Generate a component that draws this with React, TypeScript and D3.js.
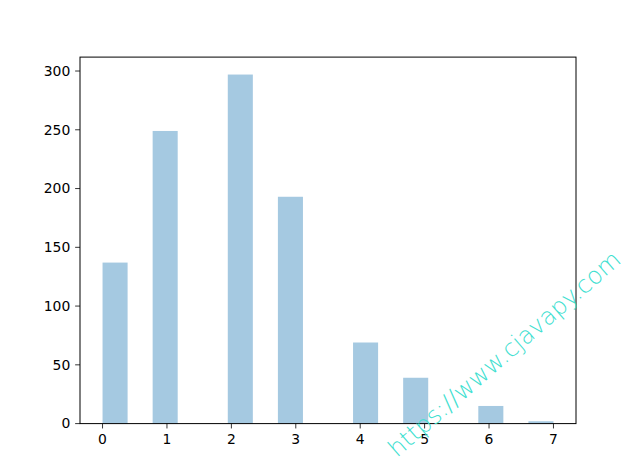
import * as d3 from "d3";
import { useEffect, useRef } from "react";

// histogram data: integer value -> count
const values = [0, 1, 2, 3, 4, 5, 6, 7];
const counts = [137, 249, 297, 193, 69, 39, 15, 2];
const yTicks = [0, 50, 100, 150, 200, 250, 300];
const xTicks = [0, 1, 2, 3, 4, 5, 6, 7];
const nBins = 18;
const watermark = "https://www.cjavapy.com";

export default function App() {
  const svgRef = useRef<SVGSVGElement>(null);
  const width = 640;
  const height = 476;

  useEffect(() => {
    const svg = d3.select(svgRef.current).attr("width", width).attr("height", height);
    svg.selectAll("*").remove();

    const left = 80, right = 576, top = 57.1, bottom = 423.6;
    const lo = d3.min(values)!, hi = d3.max(values)!;
    const pad = (hi - lo) * 0.05;
    const x = d3.scaleLinear().domain([lo - pad, hi + pad]).range([left, right]);
    const y = d3.scaleLinear().domain([0, d3.max(counts)! * 1.05]).range([bottom, top]);
    const bw = (hi - lo) / nBins;

    const bars = values.map((v, i) => {
      const idx = Math.min(nBins - 1, Math.floor((v - lo) / bw));
      return { x0: lo + idx * bw, x1: lo + (idx + 1) * bw, c: counts[i] };
    });

    svg.append("g")
      .selectAll("rect")
      .data(bars)
      .enter()
      .append("rect")
      .attr("x", d => x(d.x0))
      .attr("width", d => x(d.x1) - x(d.x0))
      .attr("y", d => y(d.c))
      .attr("height", d => bottom - y(d.c))
      .attr("fill", "#1f77b4")
      .attr("fill-opacity", 0.4);

    const font = "'DejaVu Sans', sans-serif";
    const tickLen = 4.86;

    // x axis
    const gx = svg.append("g").attr("transform", `translate(0,${bottom})`);
    const xt = gx.selectAll("g").data(xTicks).enter().append("g")
      .attr("transform", d => `translate(${x(d)},0)`);
    xt.append("line").attr("y2", tickLen).attr("stroke", "#000").attr("stroke-width", 0.8);
    xt.append("text").attr("y", tickLen + 4.86).attr("dy", "0.76em")
      .attr("text-anchor", "middle").style("font-family", font).style("font-size", "13.9px")
      .text(d => d);

    // y axis
    const gy = svg.append("g").attr("transform", `translate(${left},0)`);
    const yt = gy.selectAll("g").data(yTicks).enter().append("g")
      .attr("transform", d => `translate(0,${y(d)})`);
    yt.append("line").attr("x2", -tickLen).attr("stroke", "#000").attr("stroke-width", 0.8);
    yt.append("text").attr("x", -tickLen - 4.86).attr("dy", "0.35em")
      .attr("text-anchor", "end").style("font-family", font).style("font-size", "13.9px")
      .text(d => d);

    // frame
    svg.append("rect")
      .attr("x", left).attr("y", top)
      .attr("width", right - left).attr("height", bottom - top)
      .attr("fill", "none").attr("stroke", "#000").attr("stroke-width", 1);

    // watermark
    svg.append("text")
      .attr("transform", "translate(397,458) rotate(-41)")
      .style("font-family", "'DejaVu Sans', sans-serif")
      .style("font-weight", 200)
      .style("font-size", "24px")
      .attr("fill", "#40e0d0")
      .text(watermark);

    return () => {};
  }, []);

  return (
    <div style={{ position: "absolute", left: 0, top: 0, background: "#fff" }}>
      <svg ref={svgRef} style={{ display: "block" }}></svg>
    </div>
  );
}
